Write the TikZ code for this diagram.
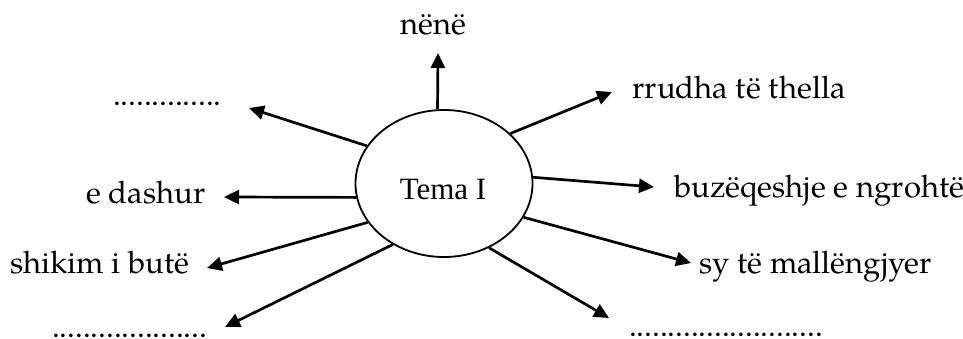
\documentclass[tikz,border=0pt]{standalone}
\usepackage{fontspec}
\setmainfont{TeX Gyre Pagella}
\newfontfamily\timesf{Liberation Serif}
\usetikzlibrary{arrows.meta,shapes.geometric}
\begin{document}
\begin{tikzpicture}[x=1pt,y=-1pt,
  lbl/.style={inner sep=0pt,anchor=base west,font=\fontsize{31}{37}\selectfont},
  arr/.style={line width=2.7pt,-{Triangle[length=15pt,width=14pt]}},
  centre/.style={ellipse,draw,line width=1.8pt,minimum width=177pt,minimum height=147pt,inner sep=0pt,font=\timesf\fontsize{31}{37}\selectfont}]
\useasboundingbox (0,0) rectangle (963,339);
\node[centre] (T) at (444,183.5) {};
\node[inner sep=0pt,anchor=base,font=\timesf\fontsize{31}{37}\selectfont] (TL) at (443,200) {Tema I};
% labels
\node[lbl,anchor=base] (nene) at (433,35) {nënë};
\node[lbl] (d1) at (113,105.5) {..............};
\node[lbl] (dash) at (86,204) {e dashur};
\node[lbl] (shik) at (10,273) {shikim i butë};
\node[lbl] (d2) at (52,337.5) {....................};
\node[lbl] (rrud) at (632,98.5) {rrudha të thella};
\node[lbl] (buz) at (674,197) {buzëqeshje e ngrohtë};
\node[lbl] (sy) at (699,273) {sy të mallëngjyer};
\node[lbl] (d3) at (629,336) {.........................};
% arrow tips
\coordinate (tUp) at (438,53);
\coordinate (tUL) at (249,108);
\coordinate (tL) at (224,197);
\coordinate (tLL1) at (207,268);
\coordinate (tLL2) at (225,327);
\coordinate (tUR) at (612,92);
\coordinate (tR) at (654,187);
\coordinate (tLR1) at (691,263);
\coordinate (tLR2) at (609,318);
% arrows
\draw[arr] (T.95) -- (tUp);
\draw[arr] (T.154.9) -- (tUL);
\draw[arr] (T.189.5) -- (tL);
\draw[arr] (T.207.4) -- (tLL1);
\draw[arr] (T.230.8) -- (tLL2);
\draw[arr] (T.37.4) -- (tUR);
\draw[arr] (T.4.2) -- (tR);
\draw[arr] (T.-23.5) -- (tLR1);
\draw[arr] (T.-55.7) -- (tLR2);
\end{tikzpicture}
\end{document}
